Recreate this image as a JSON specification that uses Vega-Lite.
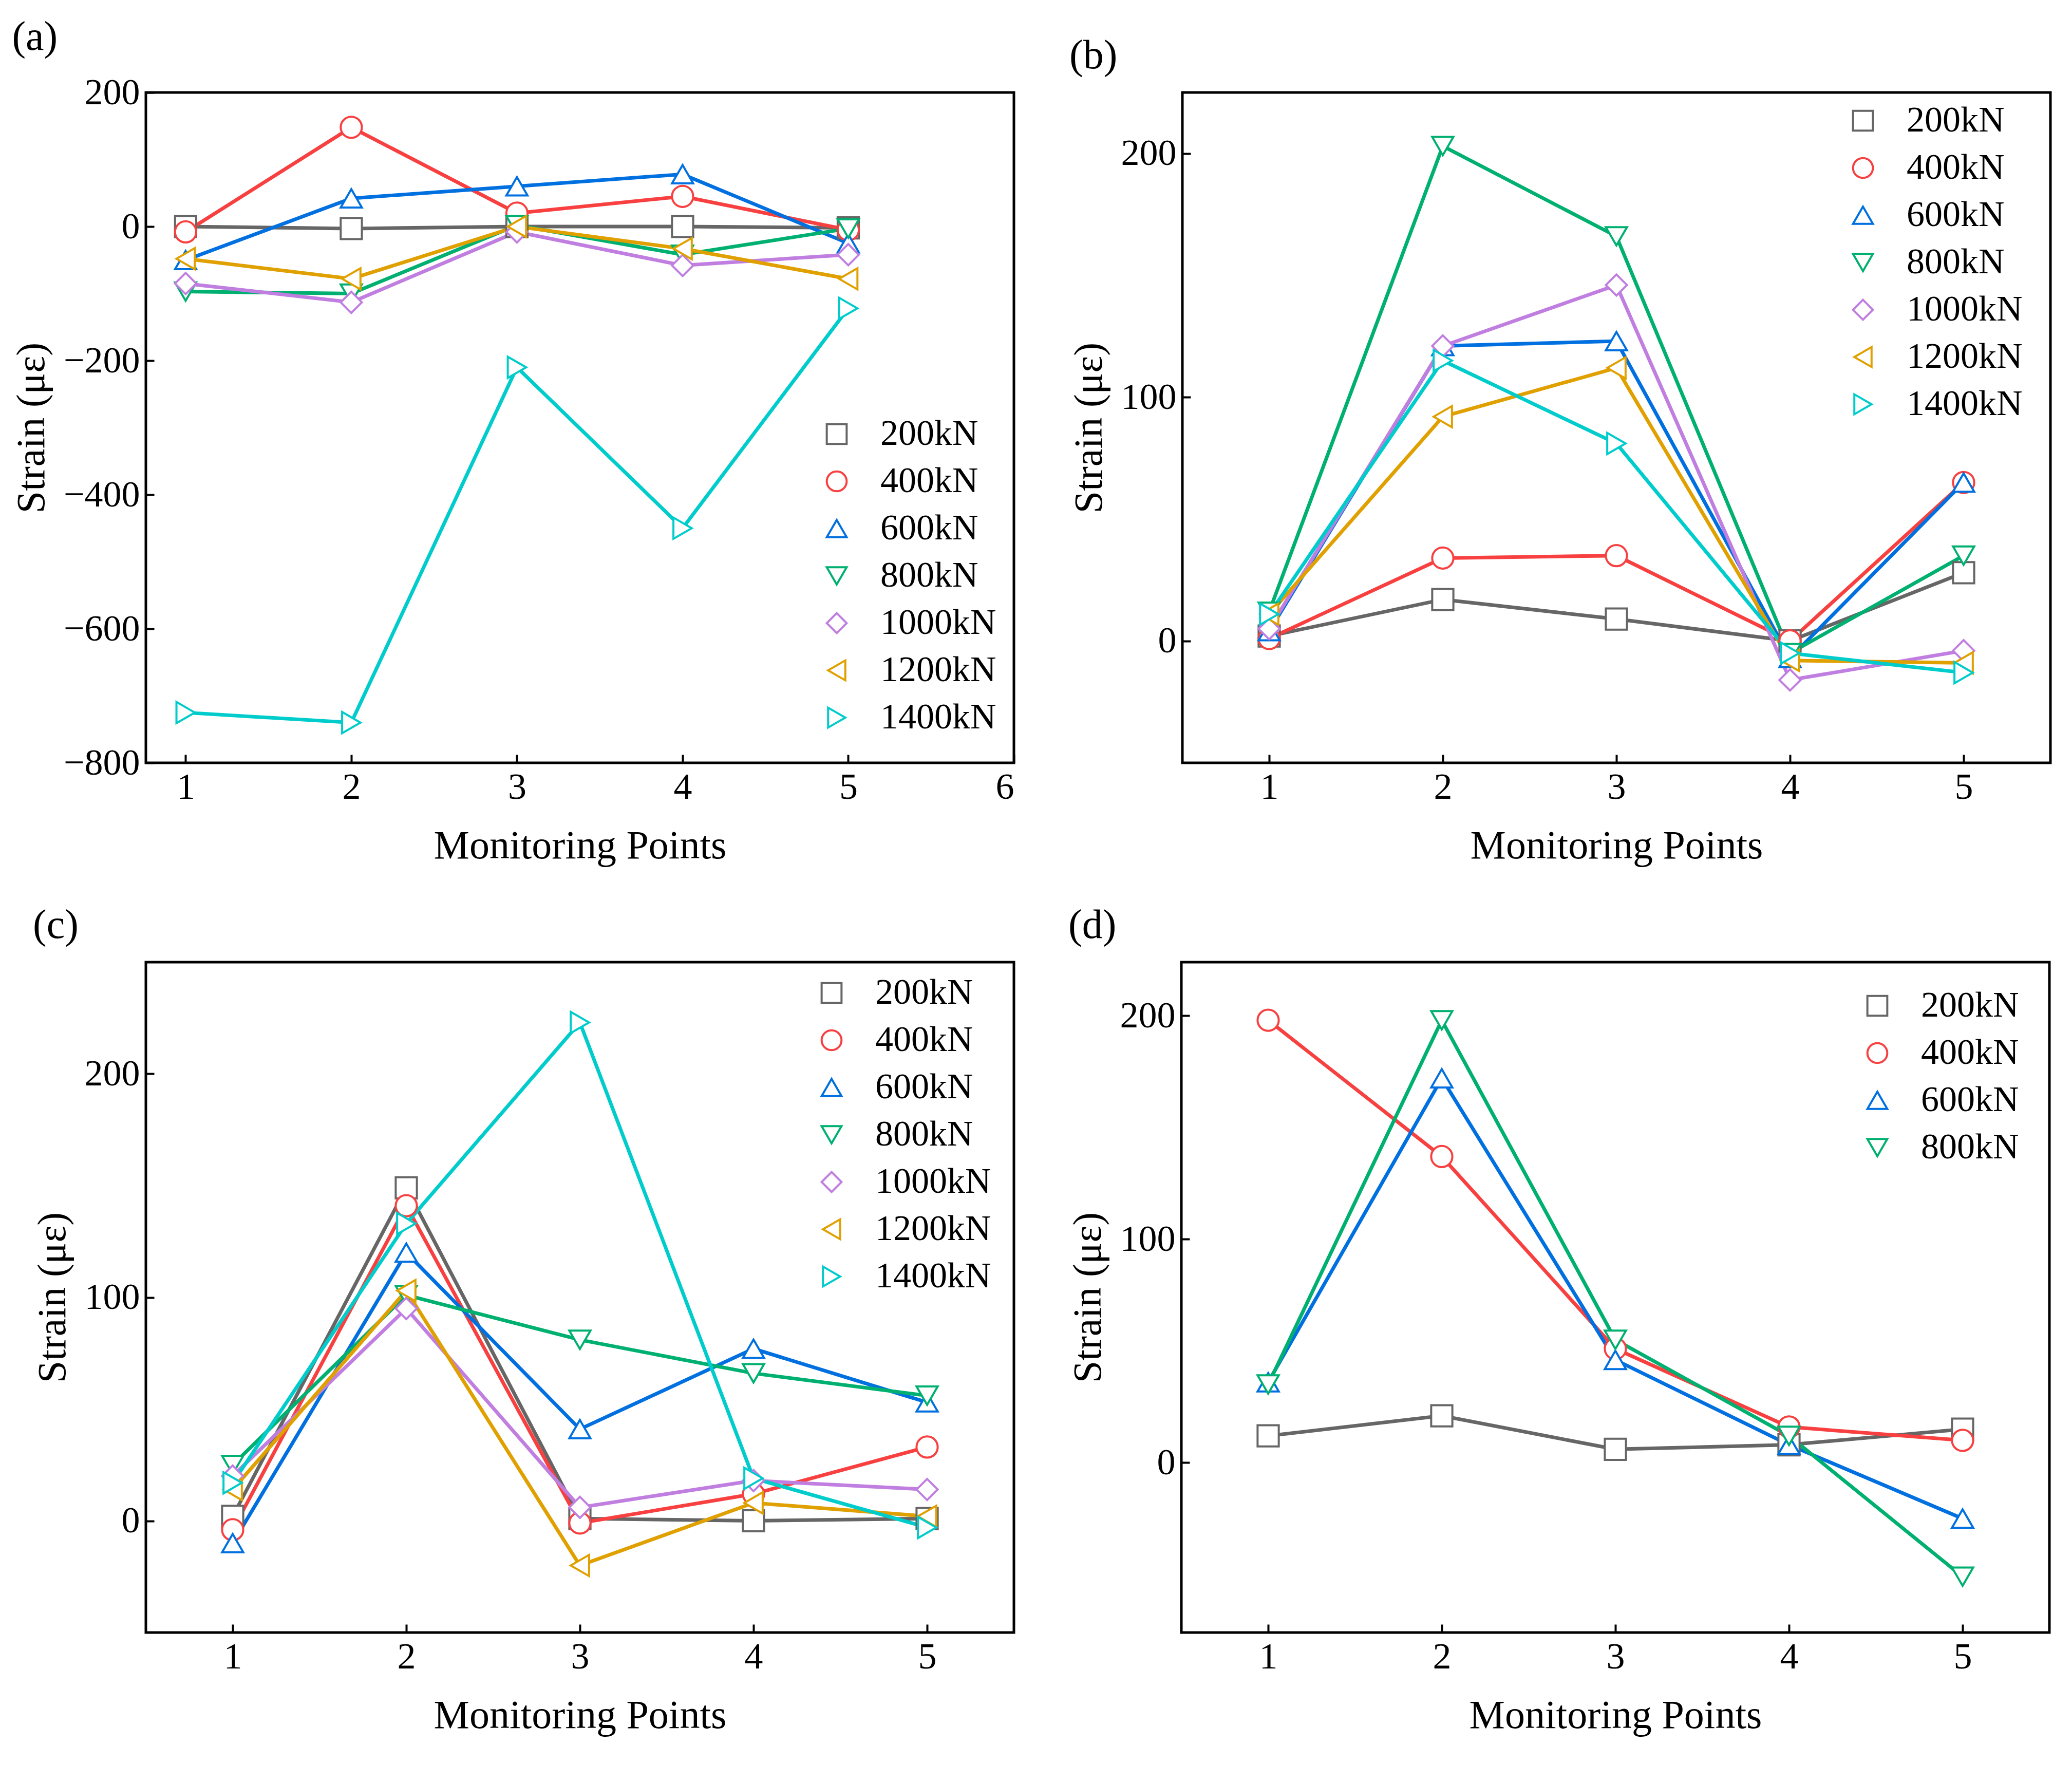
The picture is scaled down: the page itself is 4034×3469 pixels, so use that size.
{
  "$schema": "https://vega.github.io/schema/vega-lite/v6.json",
  "background": "white",
  "padding": {"left": 20, "top": 30, "right": 10, "bottom": 10},
  "spacing": 70,
  "resolve": {"scale": {"stroke": "independent", "shape": "independent"}, "legend": {"stroke": "independent", "shape": "independent"}},
  "config": {
    "font": "Liberation Serif",
    "view": {"stroke": "black", "strokeWidth": 5},
    "axis": {
      "grid": false, "domain": false, "ticks": true, "tickColor": "black", "tickWidth": 4,
      "tickSize": -16, "labelPadding": 28, "labelFontSize": 72, "labelColor": "black",
      "titleFontSize": 78, "titleFontWeight": "normal", "titleColor": "black", "labelFont": "Liberation Serif", "titleFont": "Liberation Serif"
    },
    "axisX": {"titlePadding": 40},
    "axisY": {"titlePadding": 22},
    "title": {"fontSize": 80, "fontWeight": "normal", "anchor": "start", "frame": "bounds", "offset": 30, "font": "Liberation Serif"},
    "legend": {
      "orient": "none", "title": null, "labelFontSize": 70, "labelFont": "Liberation Serif", "labelColor": "black", "labelLimit": 0,
      "symbolSize": 1500, "symbolStrokeWidth": 4, "symbolFillColor": "white", "rowPadding": 22, "labelOffset": 50
    }
  },
  "datasets": {
    "a": [
      {"point": 1, "strain": 0, "load": "200kN"}, {"point": 2, "strain": -3, "load": "200kN"}, {"point": 3, "strain": 0, "load": "200kN"}, {"point": 4, "strain": 0, "load": "200kN"}, {"point": 5, "strain": -2, "load": "200kN"},
      {"point": 1, "strain": -8, "load": "400kN"}, {"point": 2, "strain": 148, "load": "400kN"}, {"point": 3, "strain": 20, "load": "400kN"}, {"point": 4, "strain": 45, "load": "400kN"}, {"point": 5, "strain": -5, "load": "400kN"},
      {"point": 1, "strain": -50, "load": "600kN"}, {"point": 2, "strain": 42, "load": "600kN"}, {"point": 3, "strain": 60, "load": "600kN"}, {"point": 4, "strain": 78, "load": "600kN"}, {"point": 5, "strain": -25, "load": "600kN"},
      {"point": 1, "strain": -97, "load": "800kN"}, {"point": 2, "strain": -100, "load": "800kN"}, {"point": 3, "strain": 2, "load": "800kN"}, {"point": 4, "strain": -42, "load": "800kN"}, {"point": 5, "strain": -3, "load": "800kN"},
      {"point": 1, "strain": -85, "load": "1000kN"}, {"point": 2, "strain": -113, "load": "1000kN"}, {"point": 3, "strain": -8, "load": "1000kN"}, {"point": 4, "strain": -58, "load": "1000kN"}, {"point": 5, "strain": -42, "load": "1000kN"},
      {"point": 1, "strain": -48, "load": "1200kN"}, {"point": 2, "strain": -78, "load": "1200kN"}, {"point": 3, "strain": 0, "load": "1200kN"}, {"point": 4, "strain": -33, "load": "1200kN"}, {"point": 5, "strain": -78, "load": "1200kN"},
      {"point": 1, "strain": -725, "load": "1400kN"}, {"point": 2, "strain": -740, "load": "1400kN"}, {"point": 3, "strain": -210, "load": "1400kN"}, {"point": 4, "strain": -450, "load": "1400kN"}, {"point": 5, "strain": -122, "load": "1400kN"}
    ],
    "b": [
      {"point": 1, "strain": 2, "load": "200kN"}, {"point": 2, "strain": 17, "load": "200kN"}, {"point": 3, "strain": 9, "load": "200kN"}, {"point": 4, "strain": 0, "load": "200kN"}, {"point": 5, "strain": 28, "load": "200kN"},
      {"point": 1, "strain": 1, "load": "400kN"}, {"point": 2, "strain": 34, "load": "400kN"}, {"point": 3, "strain": 35, "load": "400kN"}, {"point": 4, "strain": 0, "load": "400kN"}, {"point": 5, "strain": 65, "load": "400kN"},
      {"point": 1, "strain": 4, "load": "600kN"}, {"point": 2, "strain": 121, "load": "600kN"}, {"point": 3, "strain": 123, "load": "600kN"}, {"point": 4, "strain": -7, "load": "600kN"}, {"point": 5, "strain": 65, "load": "600kN"},
      {"point": 1, "strain": 12, "load": "800kN"}, {"point": 2, "strain": 203, "load": "800kN"}, {"point": 3, "strain": 166, "load": "800kN"}, {"point": 4, "strain": -5, "load": "800kN"}, {"point": 5, "strain": 35, "load": "800kN"},
      {"point": 1, "strain": 5, "load": "1000kN"}, {"point": 2, "strain": 121, "load": "1000kN"}, {"point": 3, "strain": 146, "load": "1000kN"}, {"point": 4, "strain": -16, "load": "1000kN"}, {"point": 5, "strain": -4, "load": "1000kN"},
      {"point": 1, "strain": 11, "load": "1200kN"}, {"point": 2, "strain": 92, "load": "1200kN"}, {"point": 3, "strain": 112, "load": "1200kN"}, {"point": 4, "strain": -8, "load": "1200kN"}, {"point": 5, "strain": -9, "load": "1200kN"},
      {"point": 1, "strain": 11, "load": "1400kN"}, {"point": 2, "strain": 115, "load": "1400kN"}, {"point": 3, "strain": 81, "load": "1400kN"}, {"point": 4, "strain": -5, "load": "1400kN"}, {"point": 5, "strain": -13, "load": "1400kN"}
    ],
    "c": [
      {"point": 1, "strain": 2, "load": "200kN"}, {"point": 2, "strain": 149, "load": "200kN"}, {"point": 3, "strain": 1, "load": "200kN"}, {"point": 4, "strain": 0, "load": "200kN"}, {"point": 5, "strain": 1, "load": "200kN"},
      {"point": 1, "strain": -4, "load": "400kN"}, {"point": 2, "strain": 141, "load": "400kN"}, {"point": 3, "strain": -1, "load": "400kN"}, {"point": 4, "strain": 12, "load": "400kN"}, {"point": 5, "strain": 33, "load": "400kN"},
      {"point": 1, "strain": -10, "load": "600kN"}, {"point": 2, "strain": 120, "load": "600kN"}, {"point": 3, "strain": 41, "load": "600kN"}, {"point": 4, "strain": 77, "load": "600kN"}, {"point": 5, "strain": 53, "load": "600kN"},
      {"point": 1, "strain": 25, "load": "800kN"}, {"point": 2, "strain": 101, "load": "800kN"}, {"point": 3, "strain": 81, "load": "800kN"}, {"point": 4, "strain": 66, "load": "800kN"}, {"point": 5, "strain": 56, "load": "800kN"},
      {"point": 1, "strain": 20, "load": "1000kN"}, {"point": 2, "strain": 95, "load": "1000kN"}, {"point": 3, "strain": 6, "load": "1000kN"}, {"point": 4, "strain": 18, "load": "1000kN"}, {"point": 5, "strain": 14, "load": "1000kN"},
      {"point": 1, "strain": 14, "load": "1200kN"}, {"point": 2, "strain": 103, "load": "1200kN"}, {"point": 3, "strain": -20, "load": "1200kN"}, {"point": 4, "strain": 8, "load": "1200kN"}, {"point": 5, "strain": 2, "load": "1200kN"},
      {"point": 1, "strain": 17, "load": "1400kN"}, {"point": 2, "strain": 133, "load": "1400kN"}, {"point": 3, "strain": 223, "load": "1400kN"}, {"point": 4, "strain": 19, "load": "1400kN"}, {"point": 5, "strain": -3, "load": "1400kN"}
    ],
    "d": [
      {"point": 1, "strain": 12, "load": "200kN"}, {"point": 2, "strain": 21, "load": "200kN"}, {"point": 3, "strain": 6, "load": "200kN"}, {"point": 4, "strain": 8, "load": "200kN"}, {"point": 5, "strain": 15, "load": "200kN"},
      {"point": 1, "strain": 198, "load": "400kN"}, {"point": 2, "strain": 137, "load": "400kN"}, {"point": 3, "strain": 51, "load": "400kN"}, {"point": 4, "strain": 16, "load": "400kN"}, {"point": 5, "strain": 10, "load": "400kN"},
      {"point": 1, "strain": 36, "load": "600kN"}, {"point": 2, "strain": 172, "load": "600kN"}, {"point": 3, "strain": 46, "load": "600kN"}, {"point": 4, "strain": 8, "load": "600kN"}, {"point": 5, "strain": -25, "load": "600kN"},
      {"point": 1, "strain": 35, "load": "800kN"}, {"point": 2, "strain": 198, "load": "800kN"}, {"point": 3, "strain": 55, "load": "800kN"}, {"point": 4, "strain": 12, "load": "800kN"}, {"point": 5, "strain": -51, "load": "800kN"}
    ]
  },
  "vconcat": [
    {"spacing": 100, "resolve": {"scale": {"stroke": "independent", "shape": "independent"}, "legend": {"stroke": "independent", "shape": "independent"}}, "hconcat": [
      {
        "title": "(a)", "width": 1690, "height": 1305, "data": {"name": "a"},
        "encoding": {
          "x": {"field": "point", "type": "quantitative", "title": "Monitoring Points", "scale": {"domain": [0.76, 6], "nice": false, "zero": false}, "axis": {"values": [1, 2, 3, 4, 5, 6]}},
          "y": {"field": "strain", "type": "quantitative", "title": "Strain (με)", "scale": {"domain": [-800, 200], "nice": false}, "axis": {"values": [-800, -600, -400, -200, 0, 200]}},
          "stroke": {"field": "load", "type": "nominal", "scale": {"domain": ["200kN", "400kN", "600kN", "800kN", "1000kN", "1200kN", "1400kN"], "range": ["#666666", "#f84040", "#0070e0", "#00b070", "#c07ee0", "#e0a000", "#00cccc"]}, "legend": {"legendX": 1310, "legendY": 630, "encode": {"symbols": {"update": {"fill": {"value": "white"}}}}}},
          "shape": {"field": "load", "type": "nominal", "scale": {"domain": ["200kN", "400kN", "600kN", "800kN", "1000kN", "1200kN", "1400kN"], "range": ["square", "circle", "triangle-up", "triangle-down", "diamond", "triangle-left", "triangle-right"]}, "legend": {"legendX": 1310, "legendY": 630, "encode": {"symbols": {"update": {"fill": {"value": "white"}}}}}}
        },
        "layer": [
          {"mark": {"type": "line", "strokeWidth": 7}},
          {"mark": {"type": "point", "filled": true, "fill": "white", "fillOpacity": 1, "size": 1700, "strokeWidth": 4, "opacity": 1}}
        ]
      },
      {
        "title": "(b)", "width": 1690, "height": 1305, "data": {"name": "b"},
        "encoding": {
          "x": {"field": "point", "type": "quantitative", "title": "Monitoring Points", "scale": {"domain": [0.5, 5.5], "nice": false, "zero": false}, "axis": {"values": [1, 2, 3, 4, 5]}},
          "y": {"field": "strain", "type": "quantitative", "title": "Strain (με)", "scale": {"domain": [-50, 225], "nice": false}, "axis": {"values": [0, 100, 200]}},
          "stroke": {"field": "load", "type": "nominal", "scale": {"domain": ["200kN", "400kN", "600kN", "800kN", "1000kN", "1200kN", "1400kN"], "range": ["#666666", "#f84040", "#0070e0", "#00b070", "#c07ee0", "#e0a000", "#00cccc"]}, "legend": {"legendX": 1290, "legendY": 20, "encode": {"symbols": {"update": {"fill": {"value": "white"}}}}}},
          "shape": {"field": "load", "type": "nominal", "scale": {"domain": ["200kN", "400kN", "600kN", "800kN", "1000kN", "1200kN", "1400kN"], "range": ["square", "circle", "triangle-up", "triangle-down", "diamond", "triangle-left", "triangle-right"]}, "legend": {"legendX": 1290, "legendY": 20, "encode": {"symbols": {"update": {"fill": {"value": "white"}}}}}}
        },
        "layer": [
          {"mark": {"type": "line", "strokeWidth": 7}},
          {"mark": {"type": "point", "filled": true, "fill": "white", "fillOpacity": 1, "size": 1700, "strokeWidth": 4, "opacity": 1}}
        ]
      }
    ]},
    {"spacing": 100, "resolve": {"scale": {"stroke": "independent", "shape": "independent"}, "legend": {"stroke": "independent", "shape": "independent"}}, "hconcat": [
      {
        "title": "(c)", "width": 1690, "height": 1305, "data": {"name": "c"},
        "encoding": {
          "x": {"field": "point", "type": "quantitative", "title": "Monitoring Points", "scale": {"domain": [0.5, 5.5], "nice": false, "zero": false}, "axis": {"values": [1, 2, 3, 4, 5]}},
          "y": {"field": "strain", "type": "quantitative", "title": "Strain (με)", "scale": {"domain": [-50, 250], "nice": false}, "axis": {"values": [0, 100, 200]}},
          "stroke": {"field": "load", "type": "nominal", "scale": {"domain": ["200kN", "400kN", "600kN", "800kN", "1000kN", "1200kN", "1400kN"], "range": ["#666666", "#f84040", "#0070e0", "#00b070", "#c07ee0", "#e0a000", "#00cccc"]}, "legend": {"legendX": 1300, "legendY": 25, "encode": {"symbols": {"update": {"fill": {"value": "white"}}}}}},
          "shape": {"field": "load", "type": "nominal", "scale": {"domain": ["200kN", "400kN", "600kN", "800kN", "1000kN", "1200kN", "1400kN"], "range": ["square", "circle", "triangle-up", "triangle-down", "diamond", "triangle-left", "triangle-right"]}, "legend": {"legendX": 1300, "legendY": 25, "encode": {"symbols": {"update": {"fill": {"value": "white"}}}}}}
        },
        "layer": [
          {"mark": {"type": "line", "strokeWidth": 7}},
          {"mark": {"type": "point", "filled": true, "fill": "white", "fillOpacity": 1, "size": 1700, "strokeWidth": 4, "opacity": 1}}
        ]
      },
      {
        "title": "(d)", "width": 1690, "height": 1305, "data": {"name": "d"},
        "encoding": {
          "x": {"field": "point", "type": "quantitative", "title": "Monitoring Points", "scale": {"domain": [0.5, 5.5], "nice": false, "zero": false}, "axis": {"values": [1, 2, 3, 4, 5]}},
          "y": {"field": "strain", "type": "quantitative", "title": "Strain (με)", "scale": {"domain": [-76, 224], "nice": false}, "axis": {"values": [0, 100, 200]}},
          "stroke": {"field": "load", "type": "nominal", "scale": {"domain": ["200kN", "400kN", "600kN", "800kN"], "range": ["#666666", "#f84040", "#0070e0", "#00b070"]}, "legend": {"legendX": 1320, "legendY": 50, "encode": {"symbols": {"update": {"fill": {"value": "white"}}}}}},
          "shape": {"field": "load", "type": "nominal", "scale": {"domain": ["200kN", "400kN", "600kN", "800kN"], "range": ["square", "circle", "triangle-up", "triangle-down"]}, "legend": {"legendX": 1320, "legendY": 50, "encode": {"symbols": {"update": {"fill": {"value": "white"}}}}}}
        },
        "layer": [
          {"mark": {"type": "line", "strokeWidth": 7}},
          {"mark": {"type": "point", "filled": true, "fill": "white", "fillOpacity": 1, "size": 1700, "strokeWidth": 4, "opacity": 1}}
        ]
      }
    ]}
  ]
}
